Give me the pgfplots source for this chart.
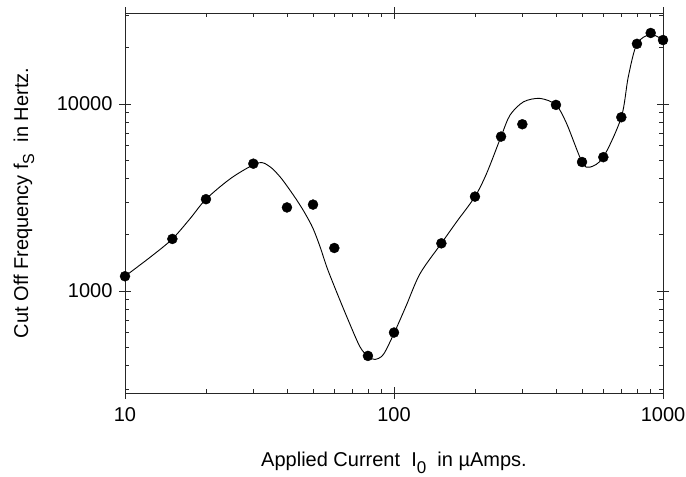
\documentclass[border=0pt]{standalone}
\usepackage{pgfplots}
\pgfplotsset{compat=1.18}
\usepackage{fontspec}
\setmainfont{Liberation Sans}
\begin{document}
\begin{tikzpicture}
\begin{loglogaxis}[
  scale only axis,
  width=538bp, height=380bp,
  xmin=10, xmax=1000,
  ymin=285, ymax=30700,
  axis line style={black!85, line width=0.7bp},
  xtick={10,100,1000}, xticklabels={10,100,1000},
  ytick={1000,10000}, yticklabels={1000,10000},
  minor xtick={20,30,40,50,60,70,80,90,200,300,400,500,600,700,800,900},
  minor ytick={300,400,500,600,700,800,900,2000,3000,4000,5000,6000,7000,8000,9000,20000,30000},
  tick align=inside,
  major tick length=6bp, minor tick length=4bp,
  tick style={black!85, line width=0.6bp},
  extra x ticks={10,100,1000}, extra x tick labels={},
  extra y ticks={1000,10000}, extra y tick labels={},
  extra tick style={tick align=outside, major tick length=6bp},
  tick label style={font=\fontsize{20bp}{24bp}\selectfont},
  xticklabel style={yshift=-11bp},
  yticklabel style={xshift=-9bp},
  label style={font=\fontsize{20bp}{24bp}\selectfont},
  xlabel={Applied Current\ \ I\raisebox{-7bp}{\fontsize{17bp}{17bp}\selectfont 0}\ \ in µAmps.},
  xlabel style={at={(axis description cs:0.5,0)}, anchor=base, yshift=-74bp},
  ylabel={Cut Off Frequency\ f\raisebox{-6bp}{\fontsize{16bp}{16bp}\selectfont S}\ \ in Hertz.},
  ylabel style={at={(axis description cs:0,0.5)}, anchor=center, yshift=101bp},
]
\addplot[black, line width=0.9bp, smooth, tension=0.5] coordinates {
(10,1200) (12.5,1530) (15,1900) (17.5,2450) (20,3100) (25,4050) (31.3,4850)
(34.6,4620) (37.7,4085) (40.2,3613) (43.5,3067) (46.7,2603) (50,2163)
(53.1,1726) (56.2,1349) (60,1060) (67,720) (74.7,504)
(80.3,446) (85,431) (91.3,458) (100,594) (111,835) (125,1240) (150,1800)
(171,2348) (200,3200) (221,4260) (250,6700) (270,8730) (303,10280)
(349,10720) (400,9900) (438,7880) (500,4900) (535,4600) (600,5200)
(700,8500) (743,14000) (800,21000) (900,23600) (1000,22000)
};
\addplot[only marks, mark=*, mark size=5bp, black] coordinates {
(10,1200) (15,1900) (20,3100) (30,4800) (40,2800) (50,2900) (60,1700)
(80,450) (100,600) (150,1800) (200,3200) (250,6700) (300,7800)
(400,9900) (500,4900) (600,5200) (700,8500) (800,21000) (900,24000) (1000,22000)
};
\end{loglogaxis}
\pgfresetboundingbox
\path[use as bounding box] ([shift={(-125bp,-84bp)}]current axis.south west) rectangle ([shift={(23bp,13bp)}]current axis.north east);
\end{tikzpicture}
\end{document}
